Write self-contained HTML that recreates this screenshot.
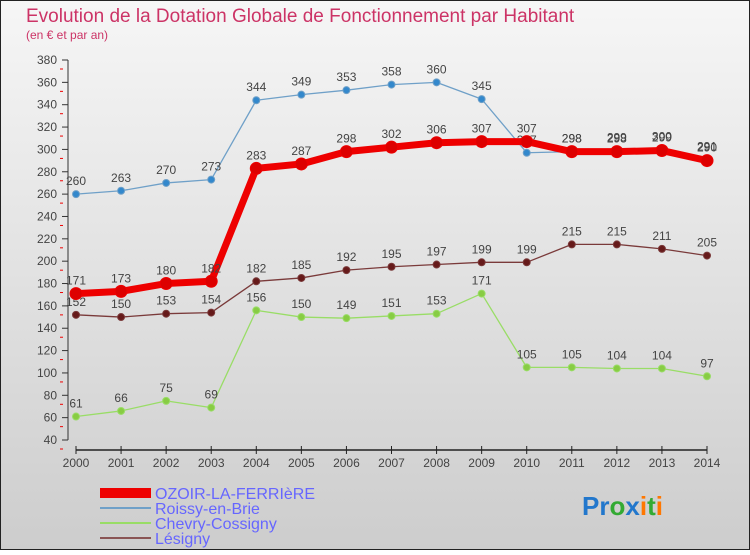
<!DOCTYPE html>
<html><head><meta charset="utf-8"><style>
html,body{margin:0;padding:0}
body{width:750px;height:550px;overflow:hidden;font-family:"Liberation Sans",sans-serif}
</style></head><body>
<svg id="chart" width="750" height="550" xmlns="http://www.w3.org/2000/svg" font-family="Liberation Sans, sans-serif">
<defs><linearGradient id="bg" x1="0" y1="0" x2="0" y2="1"><stop offset="0" stop-color="#f6f6f6"/><stop offset="1" stop-color="#cdcdcd"/></linearGradient></defs>
<rect x="0.5" y="0.5" width="749" height="549" fill="url(#bg)" stroke="#222"/>
<text x="26" y="22" font-size="19" fill="#cc3366">Evolution de la Dotation Globale de Fonctionnement par Habitant</text>
<text x="26" y="39" font-size="12" fill="#cc3366">(en € et par an)</text>
<g id="axes"></g><g id="series"></g>
<g>
<rect x="100" y="488" width="51" height="10" fill="#ee0000"/>
<text x="155" y="499" font-size="16" fill="#6666ff">OZOIR-LA-FERRIèRE</text>
<line x1="100" y1="508" x2="151" y2="508" stroke="#6fa0c8" stroke-width="2"/>
<text x="155" y="514" font-size="16" fill="#6666ff">Roissy-en-Brie</text>
<line x1="100" y1="523" x2="151" y2="523" stroke="#99dd66" stroke-width="2"/>
<text x="155" y="529" font-size="16" fill="#6666ff">Chevry-Cossigny</text>
<line x1="100" y1="538" x2="151" y2="538" stroke="#8a5555" stroke-width="2"/>
<text x="155" y="544" font-size="16" fill="#6666ff">Lésigny</text>
</g>
<text x="582" y="515" font-size="26" font-weight="bold"><tspan fill="#2277cc">Pr</tspan><tspan fill="#33aa33">o</tspan><tspan fill="#2277cc">x</tspan><tspan fill="#ff7700">i</tspan><tspan fill="#33aa33">t</tspan><tspan fill="#ff7700">i</tspan></text>
</svg>
<script>
const years=[2000,2001,2002,2003,2004,2005,2006,2007,2008,2009,2010,2011,2012,2013,2014];
const ozoir=[171,173,180,182,283,287,298,302,306,307,307,298,298,299,290];
const roissy=[260,263,270,273,344,349,353,358,360,345,297,298,299,300,291];
const chevry=[61,66,75,69,156,150,149,151,153,171,105,105,104,104,97];
const lesigny=[152,150,153,154,182,185,192,195,197,199,199,215,215,211,205];
const yTicks=[40,60,80,100,120,140,160,180,200,220,240,260,280,300,320,340,360,380];
const NS="http://www.w3.org/2000/svg";
const x=i=>76+i*(707-76)/(years.length-1);
const y=v=>440-(v-40)*(380/340);
function mk(t,a,p){const e=document.createElementNS(NS,t);for(const k in a)e.setAttribute(k,a[k]);p.appendChild(e);return e;}
const ax=document.getElementById('axes');
yTicks.forEach(v=>{
 const g=mk('line',{x1:62,x2:68,y1:y(v),y2:y(v),stroke:'#333'},ax);
 
 
 mk('line',{x1:60,x2:63,y1:y(v)+9,y2:y(v)+9,stroke:'#e00'},ax);
 const t=mk('text',{x:57,y:y(v)+4,'font-size':12,fill:'#444','text-anchor':'end'},ax);
 
 
 t.textContent=v;
});
const yl=mk('line',{x1:68,x2:68,y1:y(380),y2:440,stroke:'#333'},ax);


const xl=mk('line',{x1:76,x2:707,y1:450,y2:450,stroke:'#222','stroke-width':1.5},ax);


years.forEach((yr,i)=>{
 mk('line',{x1:x(i),x2:x(i),y1:446,y2:454,stroke:'#222'},ax);
 const t=mk('text',{x:x(i),y:467,'font-size':12,fill:'#444','text-anchor':'middle'},ax);
 
 
 t.textContent=yr;
});
const sg=document.getElementById('series');
function series(name,data,color,w,r,dot){
 const g=mk('g',{},sg);
 
 
 const l=mk('polyline',{points:data.map((v,i)=>x(i)+','+y(v)).join(' '),fill:'none',stroke:color,'stroke-width':w,'stroke-linejoin':'round'},g);
 
 
 data.forEach((v,i)=>{
  const c=mk('circle',{cx:x(i),cy:y(v),r:r,fill:dot,stroke:color,'stroke-width':1},g);
  
  
  const t=mk('text',{x:x(i),y:y(v)-9,'font-size':12,fill:'#444','text-anchor':'middle'},g);
  
  
  t.textContent=v;
 });
}
series('chevry',chevry,'#99dd66',1.3,3.5,'#88cc44');
series('lesigny',lesigny,'#7a3a3a',1.3,3.5,'#661a1a');
series('roissy',roissy,'#6fa0c8',1.3,3.5,'#3388cc');
series('ozoir',ozoir,'#ee0000',7,6,'#dd0000');
</script>
</body></html>
